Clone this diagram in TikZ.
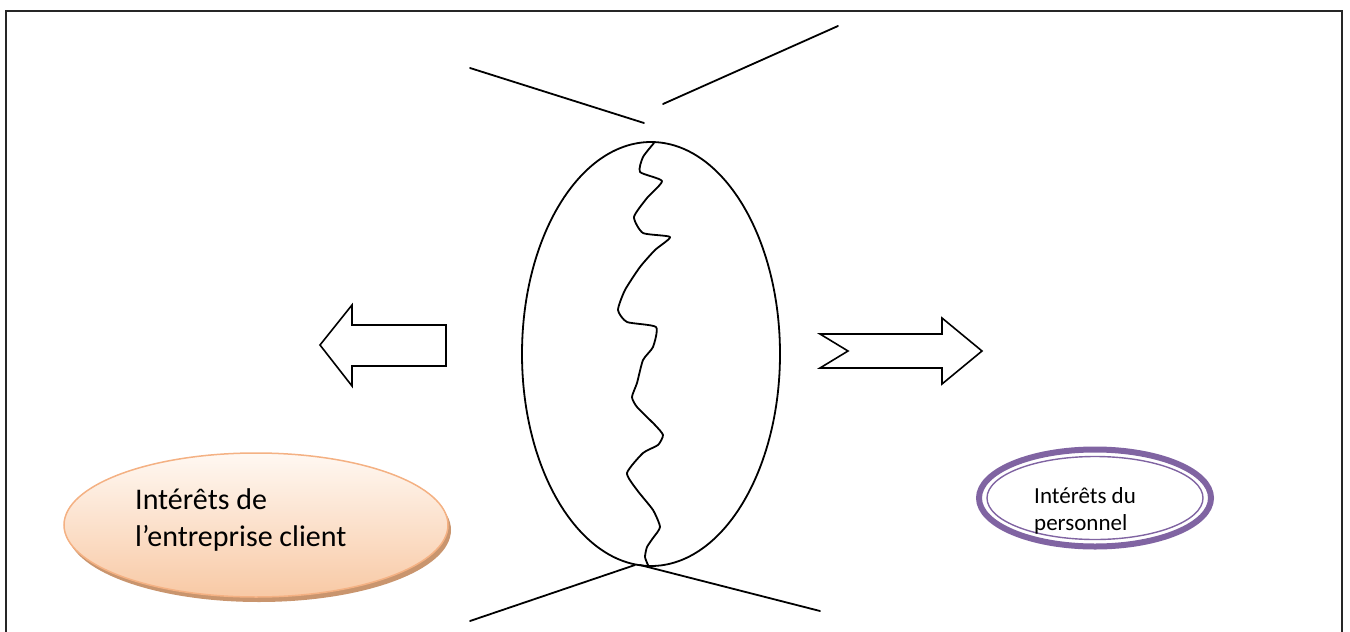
\documentclass[tikz,border=0pt]{standalone}
\usepackage{fontspec}
\setmainfont{Carlito}
\usetikzlibrary{shapes.geometric}
\definecolor{peachline}{HTML}{F4B183}
\definecolor{peachtop}{HTML}{FFF8F2}
\definecolor{peachbot}{HTML}{F8C9A5}
\definecolor{peachshadow}{HTML}{C9956E}
\definecolor{violet}{HTML}{8064A2}
\tikzset{
  ink/.style={line width=1.8pt, black, line join=round, line cap=round},
  blockarrow/.style={line width=1.6pt, black, fill=white, line join=miter},
  clientlabel/.style={font=\fontsize{30}{37}\selectfont, align=left, anchor=north west, inner sep=0pt},
  stafflabel/.style={font=\fontsize{23}{27.5}\selectfont, align=left, anchor=north west, inner sep=0pt},
}
\begin{document}
\begin{tikzpicture}[x=1pt,y=-1pt]
\useasboundingbox (0,0) rectangle (1350,632);
\begin{scope}
\clip (0,0) rectangle (1350,632);
% page frame
\draw[line width=2.6pt, black!85] (6,11) rectangle (1342,660);
\end{scope}

% central egg split by a jagged line
\node[ellipse, draw, line width=1.8pt, minimum width=258pt, minimum height=424pt, inner sep=0pt] (egg) at (651,354) {};
\draw[ink] plot[smooth, tension=0.35] coordinates {
  (654,143) (643,157) (640,172) (662,181) (647,198) (634,217) (643,233)
  (670,237) (655,250) (640,267) (625,290) (618,310) (627,322) (656,327)
  (653,347) (643,360) (637,383) (632,397) (637,407) (655,425) (663,435)
  (658,445) (643,453) (627,473) (637,490) (653,510) (660,527) (653,538)
  (647,547) (645,557) (648,565)};

% crossing lines above and below
\coordinate (tl1) at (470,68);  \coordinate (tl2) at (644,123);
\coordinate (tr1) at (663,104); \coordinate (tr2) at (838,26);
\coordinate (bl1) at (470,621); \coordinate (bl2) at (635,565);
\coordinate (br1) at (640,565); \coordinate (br2) at (820,611);
\draw[ink] (tl1) -- (tl2);
\draw[ink] (tr1) -- (tr2);
\draw[ink] (bl1) -- (bl2);
\draw[ink] (br1) -- (br2);

% left block arrow
\draw[blockarrow] (320,345) -- (352,305) -- (352,325) -- (446,325) -- (446,366)
  -- (352,366) -- (352,386) -- cycle;
% right notched block arrow
\draw[blockarrow] (820,334) -- (942,334) -- (942,318) -- (982,351) -- (942,384)
  -- (942,368) -- (820,368) -- (848,351) -- cycle;

% client interests
\fill[peachshadow] (259,530) ellipse [x radius=192, y radius=72];
\node[ellipse, minimum width=384pt, minimum height=144pt, inner sep=0pt,
  draw=peachline, line width=1.5pt, top color=peachtop, bottom color=peachbot] (client) at (256,525) {};
\node[clientlabel] (clienttxt) at (135,488) {Intérêts de\\l’entreprise client};

% staff interests
\node[ellipse, minimum width=232pt, minimum height=97pt, inner sep=0pt,
  draw=violet, line width=6pt] (staff) at (1095,498) {};
\node[ellipse, minimum width=216pt, minimum height=83pt, inner sep=0pt,
  draw=violet, line width=1.4pt] (staffin) at (1095,498) {};
\node[stafflabel] (stafftxt) at (1034,487) {Intérêts du\\personnel};
\end{tikzpicture}
\end{document}
